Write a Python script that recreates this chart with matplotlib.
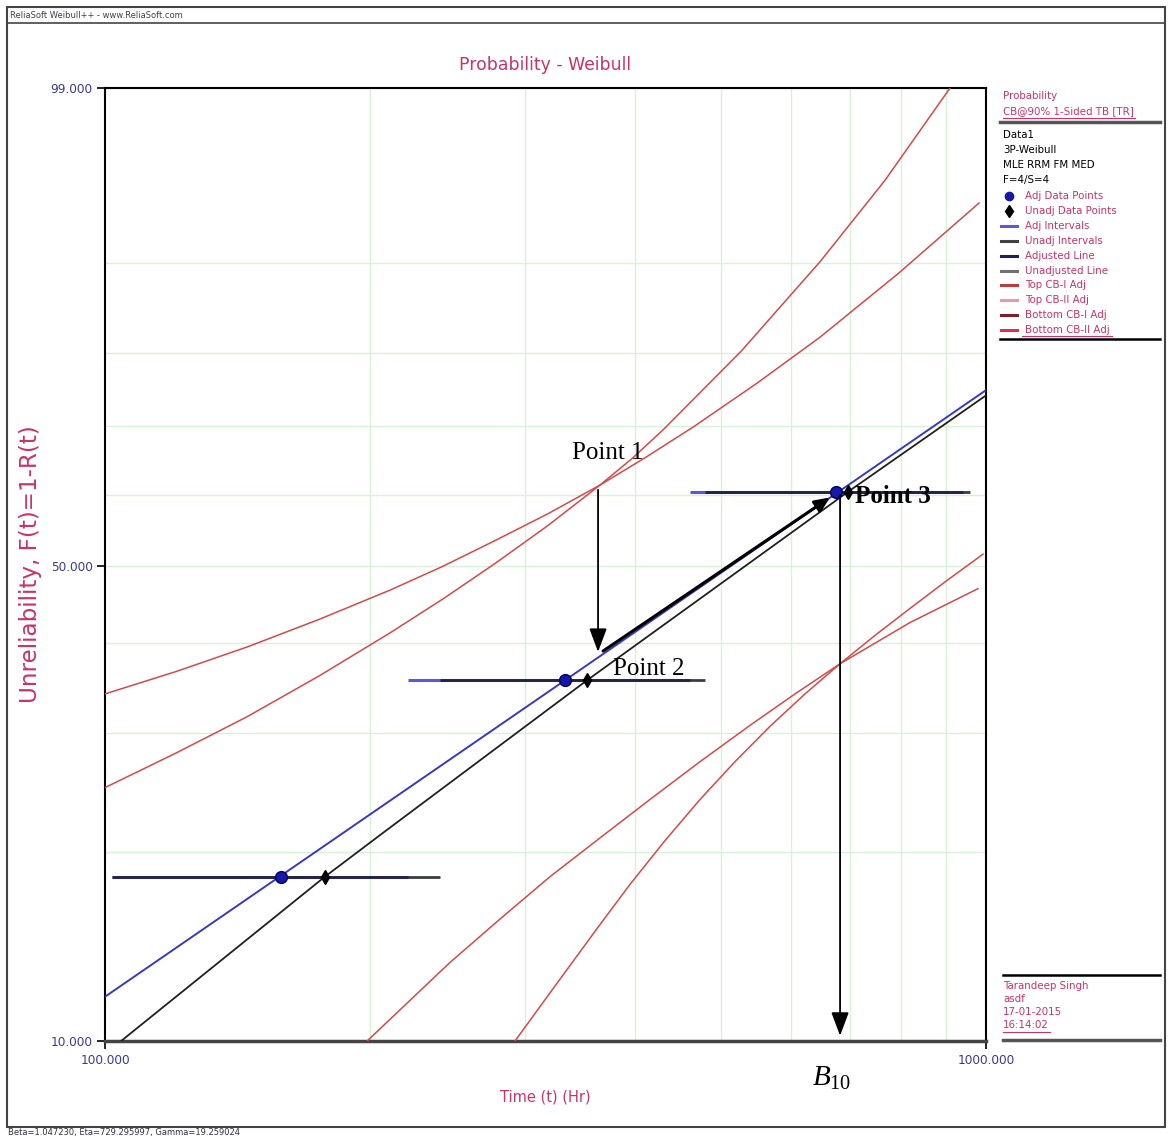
import numpy as np
import matplotlib
matplotlib.use('Agg')
import matplotlib.pyplot as plt
from matplotlib import font_manager
from matplotlib.lines import Line2D
from matplotlib.patches import Rectangle

# ---- data (time in Hr, unreliability in %) ----
adj_line_t = [100.0, 332.7, 1000.0]
adj_line_F = [11.8, 35.6, 75.1]
unadj_line_t = [104.3, 177.7, 209.0, 352.4, 697.0, 998.0]
unadj_line_F = [10.0, 18.3, 21.6, 35.6, 60.5, 74.3]

point_F = [18.3, 35.6, 60.5]
adj_t = [158.6, 332.7, 675.5]
unadj_t = [177.7, 352.4, 697.0]
adj_lo = [101.8, 220.8, 461.5]
adj_hi = [220.8, 461.5, 941.7]
unadj_lo = [101.8, 240.0, 479.8]
unadj_hi = [240.0, 479.8, 958.9]

top_cb1_t = [100.0, 120.4, 145.1, 175.0, 210.6, 241.6, 277.1, 317.9, 364.7, 411.7, 465.0,
             548.9, 648.0, 797.6, 981.9]
top_cb1_F = [34.1, 36.6, 39.5, 42.9, 46.7, 49.9, 53.5, 57.3, 61.5, 65.6, 69.9,
             76.0, 82.0, 89.1, 94.6]
top_cb2_t = [100.0, 120.4, 145.1, 175.0, 210.6, 241.6, 277.1, 317.9, 364.7, 396.0, 429.9,
             527.8, 648.0, 768.0, 910.3]
top_cb2_F = [25.0, 28.1, 31.7, 36.1, 41.2, 45.5, 50.3, 55.6, 61.5, 65.3, 69.5,
             80.3, 90.1, 95.9, 99.0]
bot_cb1_t = [198.4, 246.4, 280.7, 320.0, 364.7, 415.5, 473.6, 539.7, 607.0, 682.9, 819.8, 979.3]
bot_cb1_F = [10.0, 13.4, 15.7, 18.3, 21.0, 24.0, 27.3, 30.8, 34.1, 37.5, 42.5, 46.9]
bot_cb2_t = [292.0, 328.5, 364.7, 394.4, 432.2, 473.6, 518.9, 568.6, 623.1, 682.9, 748.2,
             819.8, 900.8, 992.2]
bot_cb2_F = [10.0, 12.6, 15.4, 17.8, 20.8, 24.0, 27.3, 30.7, 34.1, 37.5, 40.9,
             44.3, 47.9, 51.6]

x_ticks = [100, 1000]
x_ticklabels = ['100.000', '1000.000']
y_ticks = [10, 50, 99]
y_ticklabels = ['10.000', '50.000', '99.000']
grid_t = [200, 300, 400, 500, 600, 700, 800, 900]
grid_F = [20, 30, 40, 50, 60, 70, 80, 90]

info_lines = ['Data1', '3P-Weibull', 'MLE RRM FM MED', 'F=4/S=4']
legend_labels = ['Adj Data Points', 'Unadj Data Points', 'Adj Intervals', 'Unadj Intervals',
                 'Adjusted Line', 'Unadjusted Line', 'Top CB-I Adj', 'Top CB-II Adj',
                 'Bottom CB-I Adj', 'Bottom CB-II Adj']
user_lines = ['Tarandeep Singh', 'asdf', '17-01-2015', '16:14:02']
param_text = 'Beta=1.047230, Eta=729.295997, Gamma=19.259024'

# ---- styles ----
W, H = 1169, 1139
CRIMSON = '#c8336a'
TICKC = '#3a3a90'
RED = '#d24a4a'
names = {f.name for f in font_manager.fontManager.ttflist}
NARROW = 'Liberation Sans Narrow' if 'Liberation Sans Narrow' in names else 'DejaVu Sans'
ns = 1.0 if NARROW == 'Liberation Sans Narrow' else 0.75
SERIF = 'Liberation Serif'
plt.rcParams['mathtext.fontset'] = 'custom'
plt.rcParams['mathtext.rm'] = SERIF
plt.rcParams['mathtext.it'] = SERIF + ':italic'


def fx(px):
    return px / W


def fy(py):
    return 1 - py / H


def weib(F):
    F = np.clip(np.asarray(F, dtype=float), 1e-6, 99.99999)
    return np.log(-np.log(1 - F / 100.0))


def weib_inv(w):
    return 100.0 * (1 - np.exp(-np.exp(np.asarray(w, dtype=float))))


fig = plt.figure(figsize=(W / 100, H / 100), dpi=100)
ax = fig.add_axes([fx(105), fy(1041), 881 / W, 953 / H])
ax.set_xscale('log')
ax.set_yscale('function', functions=(weib, weib_inv))
ax.set_xlim(100, 1000)
ax.set_ylim(10, 99)

ax.set_xticks(x_ticks)
ax.set_xticklabels(x_ticklabels)
ax.set_xticks(grid_t, minor=True)
ax.xaxis.set_minor_formatter(matplotlib.ticker.NullFormatter())
ax.set_yticks(y_ticks)
ax.set_yticklabels(y_ticklabels)
ax.set_yticks(grid_F, minor=True)
ax.yaxis.set_minor_formatter(matplotlib.ticker.NullFormatter())
ax.grid(which='minor', color='#d9f0d9', lw=1.0)
ax.grid(which='major', axis='y', color='#d9f0d9', lw=1.0)
ax.set_axisbelow(True)
ax.tick_params(which='minor', length=0)
ax.tick_params(which='major', direction='out', length=6, width=1.2, colors='black',
               labelcolor=TICKC, labelsize=11.7 * ns, pad=3)
for lab in ax.get_xticklabels() + ax.get_yticklabels():
    lab.set_fontfamily(NARROW)
for s in ['top', 'left', 'right']:
    ax.spines[s].set_linewidth(1.5)
ax.spines['bottom'].set_linewidth(2.5)
ax.spines['bottom'].set_color('#444444')

ax.set_title('Probability - Weibull', color=CRIMSON, fontsize=16.6 * ns, fontfamily=NARROW, pad=13)
ax.set_xlabel('Time (t) (Hr)', color=CRIMSON, fontsize=14 * ns, fontfamily=NARROW, va='center')
ax.xaxis.set_label_coords(0.5, -0.059)
ax.set_ylabel('Unreliability, F(t)=1-R(t)', color=CRIMSON, fontsize=16.6, fontfamily='DejaVu Sans',
              va='center')
ax.yaxis.set_label_coords(-0.085, 0.5)

# intervals
for lo, hi, F in zip(adj_lo, adj_hi, point_F):
    ax.plot([lo, hi], [F, F], color='#5a5ad8', lw=2.2, solid_capstyle='butt', zorder=2)
for lo, hi, F in zip(unadj_lo, unadj_hi, point_F):
    ax.plot([lo, hi], [F, F], color='#1a1a24', lw=2.0, alpha=0.85, solid_capstyle='butt', zorder=2.1)

# fitted lines
ax.plot(adj_line_t, adj_line_F, color='#3838c0', lw=1.4, zorder=3)
ax.plot(unadj_line_t, unadj_line_F, color='#202020', lw=1.3, zorder=3)

# confidence bounds
for t, F in [(top_cb1_t, top_cb1_F), (top_cb2_t, top_cb2_F),
             (bot_cb1_t, bot_cb1_F), (bot_cb2_t, bot_cb2_F)]:
    ax.plot(t, F, color=RED, lw=1.1, zorder=3)

# data points
ax.plot(adj_t, point_F, 'o', color='#1818a8', mec='#000060', ms=8.5, zorder=5)
ax.plot(unadj_t, point_F, 'd', color='black', ms=7.5, zorder=5)

# annotations
head = '-|>,head_length=0.8,head_width=0.3'
ax.annotate('', xy=(362.8, 38.9), xytext=(362.8, 60.8),
            arrowprops=dict(arrowstyle=head, color='black', lw=1.3, mutation_scale=18,
                            shrinkA=0, shrinkB=0), zorder=6)
ax.annotate('', xy=(682.9, 10.2), xytext=(682.9, 60.0),
            arrowprops=dict(arrowstyle=head, color='black', lw=1.3, mutation_scale=18,
                            shrinkA=0, shrinkB=0), zorder=6)
ax.annotate('', xy=(665.3, 59.7), xytext=(367.6, 39.0),
            arrowprops=dict(arrowstyle='-|>,head_length=0.5,head_width=0.22', color='black',
                            lw=2.2, mutation_scale=18, shrinkA=0, shrinkB=0), zorder=6)
ax.text(372.4, 66.2, 'Point 1', fontfamily=SERIF, fontsize=18, ha='center', va='center', zorder=7)
ax.text(414.4, 36.9, 'Point 2', fontfamily=SERIF, fontsize=18, ha='center', va='center', zorder=7)
ax.text(784.3, 59.8, 'Point 3', fontfamily=SERIF, fontsize=18, fontweight='bold',
        ha='center', va='center', zorder=7)
ax.text(668.0, -0.039, r'$B_{10}$', transform=ax.get_xaxis_transform(), fontsize=21,
        ha='center', va='center')

# ---- frame, header and footer ----
fig.add_artist(Rectangle((fx(7), fy(1127)), (1165 - 7) / W, (1127 - 7) / H, fill=False,
                         lw=1.5, ec='#444444', transform=fig.transFigure))
fig.add_artist(Line2D([fx(7), fx(1165)], [fy(23), fy(23)], color='#444444', lw=1.2))
fig.text(fx(10), fy(15), 'ReliaSoft Weibull++ - www.ReliaSoft.com', fontfamily=NARROW,
         fontsize=8 * ns, color='#404050', va='center')
fig.text(fx(8), fy(1133), param_text, fontfamily=NARROW, fontsize=8 * ns, color='#303040',
         va='center')

# ---- legend panel ----
px0 = 1003
fs = 9.8 * ns
fig.text(fx(px0), fy(96), 'Probability', color=CRIMSON, fontfamily=NARROW, fontsize=fs, va='center')
fig.text(fx(px0), fy(111), 'CB@90% 1-Sided TB [TR]', color=CRIMSON, fontfamily=NARROW, fontsize=fs,
         va='center')
fig.add_artist(Line2D([fx(px0), fx(1135)], [fy(118), fy(118)], color=CRIMSON, lw=0.8))
fig.add_artist(Line2D([fx(1000), fx(1160)], [fy(122), fy(122)], color='#555555', lw=2.5))
for i, s in enumerate(info_lines):
    fig.text(fx(px0), fy(135 + 15 * i), s, color='black', fontfamily=NARROW, fontsize=fs, va='center')

leg_styles = [('o', '#1818a8'), ('d', 'black'), ('-', '#5a5ad8'), ('-', '#404040'),
              ('-', '#202060'), ('-', '#707070'), ('-', '#c03c3c'), ('-', '#e89aa8'),
              ('-', '#7a2030'), ('-', '#e03050')]
for i, (lab, (kind, col)) in enumerate(zip(legend_labels, leg_styles)):
    yy = fy(196 + 14.9 * i)
    if kind == '-':
        fig.add_artist(Line2D([fx(1001), fx(1017)], [yy, yy], color=col, lw=2.2))
    else:
        fig.add_artist(Line2D([fx(1009)], [yy], marker=kind, color=col, ms=6 if kind == 'o' else 6.5,
                              ls='none'))
    fig.text(fx(1025), yy, lab, color=CRIMSON, fontfamily=NARROW, fontsize=fs, va='center')
fig.add_artist(Line2D([fx(1022), fx(1112)], [fy(336), fy(336)], color=CRIMSON, lw=0.8))
fig.add_artist(Line2D([fx(1000), fx(1160)], [fy(339), fy(339)], color='black', lw=1.8))

fig.add_artist(Line2D([fx(1003), fx(1160)], [fy(975), fy(975)], color='black', lw=1.8))
for i, s in enumerate(user_lines):
    fig.text(fx(px0), fy(986 + 13 * i), s, color=CRIMSON, fontfamily=NARROW, fontsize=fs, va='center')
fig.add_artist(Line2D([fx(px0), fx(1050)], [fy(1032), fy(1032)], color=CRIMSON, lw=0.8))
fig.add_artist(Line2D([fx(1003), fx(1160)], [fy(1040), fy(1040)], color='#555555', lw=2.5))

fig.savefig('out.png', dpi=100)
